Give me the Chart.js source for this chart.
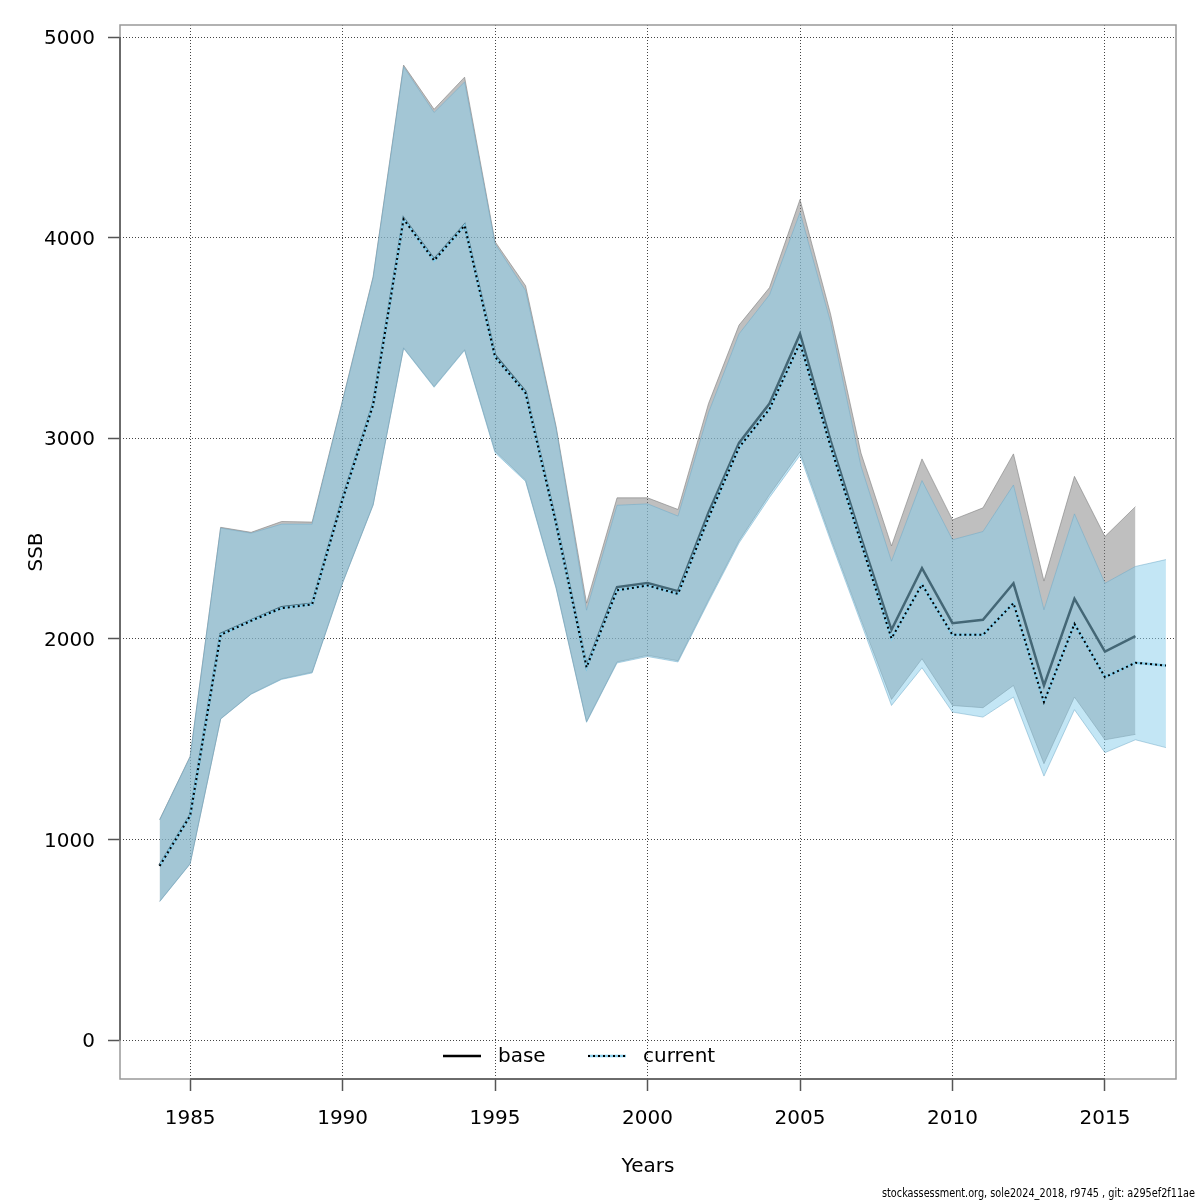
<!DOCTYPE html>
<html>
<head>
<meta charset="utf-8">
<title>SSB</title>
<script src="https://cdn.jsdelivr.net/npm/chart.js@4.4.1/dist/chart.umd.min.js"></script>
<style>
  html, body { margin: 0; padding: 0; background: #fff; }
  canvas { display: block; }
</style>
</head>
<body>
<canvas id="ssbChart" width="1200" height="1200"></canvas>
<script>
// ===========================================
// DATA
// ===========================================

const years = [1984, 1985, 1986, 1987, 1988, 1989, 1990, 1991, 1992, 1993,
               1994, 1995, 1996, 1997, 1998, 1999, 2000, 2001, 2002, 2003,
               2004, 2005, 2006, 2007, 2008, 2009, 2010, 2011, 2012, 2013,
               2014, 2015, 2016, 2017];

// base run (ends 2016)
const baseSSB  = [871, 1120, 2025, 2092, 2158, 2175, 2700, 3170, 4096, 3891,
                  4064, 3413, 3232, 2580, 1862, 2258, 2278, 2238, 2630, 2977,
                  3173, 3520, 2990, 2505, 2045, 2352, 2078, 2095, 2277, 1768,
                  2200, 1937, 2014];
const baseHigh = [1099, 1414, 2556, 2531, 2585, 2582, 3190, 3805, 4860, 4640,
                  4800, 3980, 3760, 3060, 2178, 2703, 2703, 2645, 3173, 3564,
                  3751, 4190, 3620, 2926, 2463, 2897, 2593, 2653, 2922, 2288,
                  2810, 2510, 2659];
const baseLow  = [692, 880, 1602, 1726, 1801, 1834, 2281, 2669, 3451, 3258,
                  3442, 2936, 2791, 2258, 1588, 1885, 1918, 1891, 2194, 2488,
                  2719, 2932, 2505, 2096, 1698, 1901, 1668, 1657, 1768, 1378,
                  1710, 1497, 1524];

// current run (ends 2017)
const curSSB   = [868, 1118, 2020, 2090, 2153, 2172, 2695, 3165, 4092, 3886,
                  4060, 3405, 3225, 2575, 1858, 2242, 2266, 2224, 2603, 2954,
                  3146, 3475, 2960, 2479, 2002, 2271, 2020, 2020, 2178, 1685,
                  2075, 1809, 1881, 1867];
const curHigh  = [1097, 1412, 2552, 2527, 2572, 2572, 3185, 3800, 4852, 4624,
                  4776, 3969, 3736, 3050, 2143, 2666, 2673, 2612, 3128, 3520,
                  3715, 4125, 3580, 2861, 2387, 2789, 2494, 2535, 2767, 2145,
                  2623, 2277, 2361, 2395];
const curLow   = [690, 878, 1600, 1724, 1798, 1830, 2278, 2666, 3448, 3254,
                  3438, 2928, 2785, 2252, 1584, 1880, 1912, 1885, 2185, 2478,
                  2705, 2915, 2490, 2080, 1668, 1856, 1635, 1610, 1710, 1316,
                  1647, 1433, 1497, 1458];

const xTicks = [1985, 1990, 1995, 2000, 2005, 2010, 2015];
const yTicks = [0, 1000, 2000, 3000, 4000, 5000];

const legendLabels = ['base', 'current'];
const footerText = 'stockassessment.org, sole2024_2018, r9745 , git: a295ef2f11ae';

// ===========================================
// STYLE
// ===========================================

const FONT = "'DejaVu Sans', 'Liberation Sans', sans-serif";
const GRAY_FILL = 'rgba(128,128,128,0.5)';
const GRAY_EDGE = 'rgba(128,128,128,0.6)';
const BLUE_FILL = 'rgba(135,206,235,0.5)';
const BLUE_EDGE = 'rgba(110,170,200,0.5)';
const SKY = '#87ceeb';

function pts(vals) {
    return vals.map((v, i) => ({ x: years[i], y: v }));
}

// ===========================================
// PLUGINS: R-style box, legend, footer
// ===========================================

const rFrame = {
    id: 'rFrame',
    afterDraw(chart) {
        const { ctx, chartArea: a, scales } = chart;
        ctx.save();
        // box
        ctx.strokeStyle = '#999';
        ctx.lineWidth = 1.5;
        ctx.strokeRect(a.left, a.top, a.right - a.left, a.bottom - a.top);
        // axis lines between first and last tick
        ctx.strokeStyle = '#555';
        ctx.beginPath();
        ctx.moveTo(a.left, scales.y.getPixelForValue(yTicks[0]));
        ctx.lineTo(a.left, scales.y.getPixelForValue(yTicks[yTicks.length - 1]));
        ctx.moveTo(scales.x.getPixelForValue(xTicks[0]), a.bottom);
        ctx.lineTo(scales.x.getPixelForValue(xTicks[xTicks.length - 1]), a.bottom);
        ctx.stroke();

        // legend (inside plot, bottom centre)
        const ly = a.bottom - 23;
        ctx.font = '20px ' + FONT;
        ctx.textBaseline = 'middle';
        ctx.textAlign = 'left';
        ctx.lineWidth = 2.5;
        ctx.strokeStyle = '#000';
        ctx.beginPath();
        ctx.moveTo(443, ly);
        ctx.lineTo(481, ly);
        ctx.stroke();
        ctx.fillStyle = '#000';
        ctx.fillText(legendLabels[0], 498, ly + 1);

        ctx.strokeStyle = SKY;
        ctx.beginPath();
        ctx.moveTo(588, ly);
        ctx.lineTo(626, ly);
        ctx.stroke();
        ctx.strokeStyle = '#000';
        ctx.lineWidth = 2;
        ctx.setLineDash([2, 3]);
        ctx.beginPath();
        ctx.moveTo(588, ly);
        ctx.lineTo(626, ly);
        ctx.stroke();
        ctx.setLineDash([]);
        ctx.fillText(legendLabels[1], 643, ly + 1);

        // footer
        ctx.font = '12px ' + FONT;
        ctx.textAlign = 'right';
        ctx.fillText(footerText, 1195, 1194, 313);
        ctx.restore();
    }
};

// ===========================================
// CHART
// ===========================================

const gridOpts = {
    color: '#444', lineWidth: 1,
    tickLength: 12, tickColor: '#555', tickWidth: 1.5, tickBorderDash: []
};

const ctx = document.getElementById('ssbChart').getContext('2d');
const chart = new Chart(ctx, {
    type: 'line',
    data: {
        datasets: [
            { label: 'baseHigh', data: pts(baseHigh), borderColor: GRAY_EDGE, borderWidth: 1,
              backgroundColor: GRAY_FILL, fill: 1, order: 7 },
            { label: 'baseLow', data: pts(baseLow), borderColor: GRAY_EDGE, borderWidth: 1,
              fill: false, order: 6 },
            { label: 'base', data: pts(baseSSB), borderColor: '#000', borderWidth: 2.5,
              fill: false, order: 5 },
            { label: 'curHigh', data: pts(curHigh), borderColor: BLUE_EDGE, borderWidth: 1,
              backgroundColor: BLUE_FILL, fill: 4, order: 4 },
            { label: 'curLow', data: pts(curLow), borderColor: BLUE_EDGE, borderWidth: 1,
              fill: false, order: 3 },
            { label: 'current', data: pts(curSSB), borderColor: SKY, borderWidth: 2.5,
              fill: false, order: 2 },
            { label: 'currentDots', data: pts(curSSB), borderColor: '#000', borderWidth: 2,
              borderDash: [2, 3], fill: false, order: 1 }
        ]
    },
    options: {
        responsive: false,
        devicePixelRatio: 1,
        animation: false,
        events: [],
        layout: { padding: { left: 0, right: 24, top: 24, bottom: 0 } },
        elements: {
            point: { radius: 0 },
            line: { tension: 0 }
        },
        plugins: {
            legend: { display: false },
            tooltip: { enabled: false }
        },
        scales: {
            x: {
                type: 'linear',
                min: 1982.7,
                max: 2017.33,
                afterBuildTicks: s => { s.ticks = xTicks.map(v => ({ value: v })); },
                afterFit: s => { s.height = 121; },
                border: { display: false, dash: [1, 2] },
                grid: gridOpts,
                ticks: {
                    color: '#000', padding: 16, maxRotation: 0, autoSkip: false,
                    font: { family: FONT, size: 20 },
                    callback: v => String(v)
                },
                title: {
                    display: true, text: 'Years', color: '#000',
                    font: { family: FONT, size: 20 },
                    padding: { top: 0, bottom: 21 }
                }
            },
            y: {
                type: 'linear',
                min: -194,
                max: 5060,
                afterBuildTicks: s => { s.ticks = yTicks.map(v => ({ value: v })); },
                afterFit: s => { s.width = 120; },
                border: { display: false, dash: [1, 2] },
                grid: gridOpts,
                ticks: {
                    color: '#000', padding: 13, autoSkip: false, labelOffset: 2,
                    font: { family: FONT, size: 20 },
                    callback: v => String(v)
                },
                title: {
                    display: true, text: 'SSB', color: '#000',
                    font: { family: FONT, size: 20 },
                    padding: { top: 25, bottom: 0 }
                }
            }
        }
    },
    plugins: [rFrame]
});
</script>
</body>
</html>
